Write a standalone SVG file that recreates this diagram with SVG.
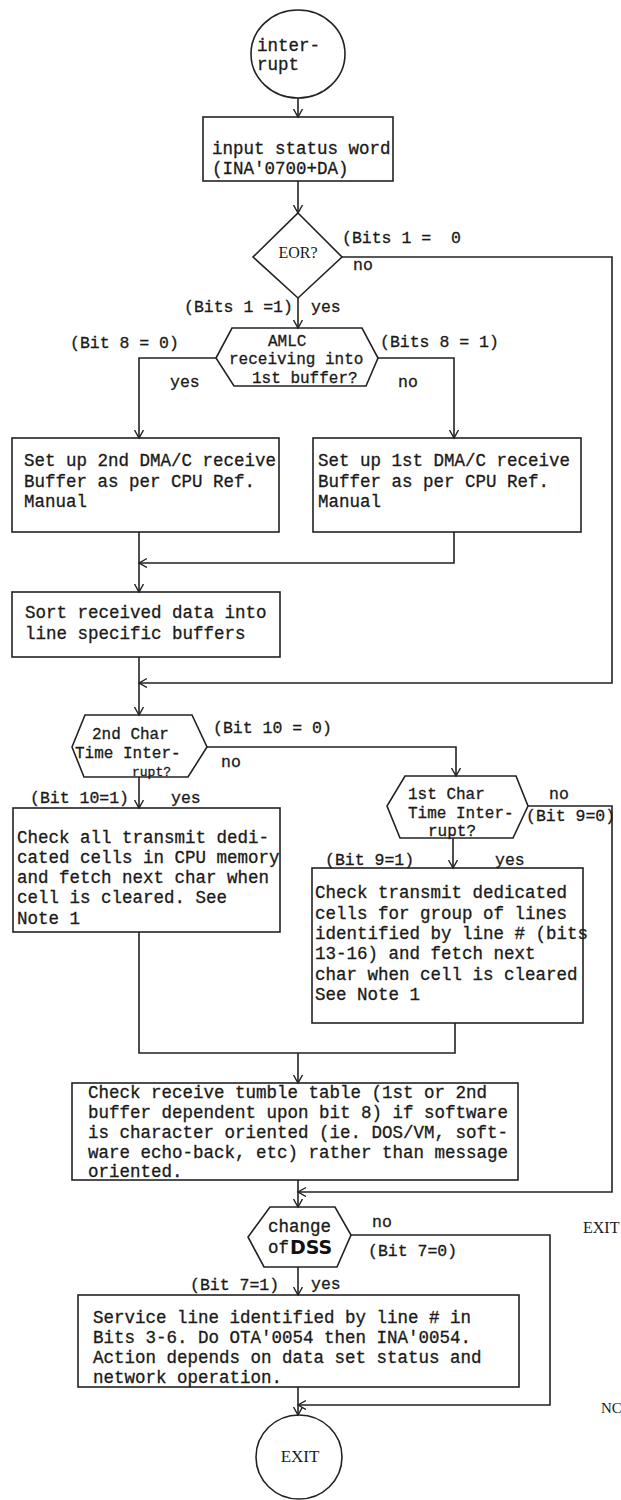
<svg xmlns="http://www.w3.org/2000/svg" width="621" height="1500" viewBox="0 0 621 1500">
<defs>
<marker id="ah" markerUnits="userSpaceOnUse" markerWidth="12" markerHeight="12" refX="8" refY="4.5" orient="auto"><path d="M0,0 L8,4.5 L0,9" fill="none" stroke="#222" stroke-width="1.4"/></marker>
</defs>
<style>
.n{fill:none;stroke:#222;stroke-width:1.6}
.c{fill:none;stroke:#222;stroke-width:1.6}
.t{font-family:"Liberation Mono","Courier New",monospace;font-size:17.5px;fill:#1a1a1a;stroke:#1a1a1a;stroke-width:0.3}
.h{font-family:"Liberation Mono","Courier New",monospace;font-size:16px;fill:#1a1a1a;stroke:#1a1a1a;stroke-width:0.3}
.l{font-family:"Liberation Mono","Courier New",monospace;font-size:16.5px;fill:#1a1a1a;stroke:#1a1a1a;stroke-width:0.3}
.r{font-family:"Liberation Serif","Times New Roman",serif;font-size:17px;fill:#1a1a1a}
.b{font-family:"DejaVu Sans",sans-serif;font-weight:bold;font-size:19px;fill:#111}
</style>
<rect width="621" height="1500" fill="#fff"/>

<g id="n-interrupt">
<ellipse class="n" cx="298" cy="54" rx="47" ry="44"/>
<text class="t" x="257" y="51">inter-</text>
<text class="t" x="257" y="70">rupt</text>
</g>

<g id="n-input">
<rect class="n" x="203" y="117" width="190" height="64"/>
<text class="t" x="212" y="154">input status word</text>
<text class="t" x="212" y="174">(INA'0700+DA)</text>
</g>

<g id="n-eor">
<polygon class="n" points="298,213 342,257 298,298 253,257"/>
<text class="r" x="298" y="258" text-anchor="middle" style="font-size:16px">EOR?</text>
</g>

<g id="n-amlc">
<polygon class="n" points="232,328 362,328 378,358 366,386 234,386 216,358"/>
<text class="h" x="268" y="346">AMLC</text>
<text class="h" x="229" y="364">receiving into</text>
<text class="h" x="252" y="383">1st buffer?</text>
</g>

<g id="n-setup2">
<rect class="n" x="12" y="438" width="267" height="94"/>
<text class="t" x="24" y="466">Set up 2nd DMA/C receive</text>
<text class="t" x="24" y="486.5">Buffer as per CPU Ref.</text>
<text class="t" x="24" y="507">Manual</text>
</g>

<g id="n-setup1">
<rect class="n" x="313" y="438" width="268" height="94"/>
<text class="t" x="318" y="466">Set up 1st DMA/C receive</text>
<text class="t" x="318" y="486.5">Buffer as per CPU Ref.</text>
<text class="t" x="318" y="507">Manual</text>
</g>

<g id="n-sort">
<rect class="n" x="12" y="592" width="268" height="65"/>
<text class="t" x="25" y="618">Sort received data into</text>
<text class="t" x="25" y="639">line specific buffers</text>
</g>

<g id="n-2ndchar">
<polygon class="n" points="85,715 192,715 207,747 188,777 84,777 72,747"/>
<text class="h" x="92" y="739">2nd Char</text>
<text class="h" x="75" y="758">Time Inter-</text>
<text class="h" x="132" y="776" style="font-size:13px">rupt?</text>
</g>

<g id="n-checkall">
<rect class="n" x="13" y="808" width="267" height="124"/>
<text class="t" x="17" y="843">Check all transmit dedi-</text>
<text class="t" x="17" y="863">cated cells in CPU memory</text>
<text class="t" x="17" y="883">and fetch next char when</text>
<text class="t" x="17" y="903">cell is cleared. See</text>
<text class="t" x="17" y="924">Note 1</text>
</g>

<g id="n-1stchar">
<polygon class="n" points="405,776 516,776 528,806 513,838 400,838 387,806"/>
<text class="h" x="408" y="799">1st Char</text>
<text class="h" x="408" y="818">Time Inter-</text>
<text class="h" x="428" y="836">rupt?</text>
</g>

<g id="n-checktx">
<rect class="n" x="312" y="868" width="271" height="155"/>
<text class="t" x="315" y="898">Check transmit dedicated</text>
<text class="t" x="315" y="918.5">cells for group of lines</text>
<text class="t" x="315" y="939">identified by line # (bits</text>
<text class="t" x="315" y="959">13-16) and fetch next</text>
<text class="t" x="315" y="980">char when cell is cleared</text>
<text class="t" x="315" y="1000">See Note 1</text>
</g>

<g id="n-checkrx">
<rect class="n" x="72" y="1083" width="446" height="97"/>
<text class="t" x="88" y="1098">Check receive tumble table (1st or 2nd</text>
<text class="t" x="88" y="1118">buffer dependent upon bit 8) if software</text>
<text class="t" x="88" y="1138">is character oriented (ie. DOS/VM, soft-</text>
<text class="t" x="88" y="1158">ware echo-back, etc) rather than message</text>
<text class="t" x="88" y="1177">oriented.</text>
</g>

<g id="n-dss">
<polygon class="n" points="270,1207 335,1207 351,1235 337,1267 264,1267 248,1237"/>
<text class="t" x="268" y="1232">change</text>
<text class="t" x="268" y="1253">of</text>
<text class="b" x="290" y="1254">DSS</text>
</g>

<g id="n-service">
<rect class="n" x="78" y="1295" width="441" height="92"/>
<text class="t" x="93" y="1323">Service line identified by line # in</text>
<text class="t" x="93" y="1343">Bits 3-6. Do OTA'0054 then INA'0054.</text>
<text class="t" x="93" y="1363">Action depends on data set status and</text>
<text class="t" x="93" y="1383">network operation.</text>
</g>

<g id="n-exit">
<ellipse class="n" cx="299" cy="1457" rx="43" ry="42"/>
<text class="r" x="300" y="1462" text-anchor="middle">EXIT</text>
</g>

<g id="connectors">
<path class="c" d="M298,98 V117" marker-end="url(#ah)"/>
<path class="c" d="M298,181 V213" marker-end="url(#ah)"/>
<path class="c" d="M298,298 V328" marker-end="url(#ah)"/>
<path class="c" d="M342,257 H612 V683 H139" marker-end="url(#ah)"/>
<path class="c" d="M216,358 H139 V438" marker-end="url(#ah)"/>
<path class="c" d="M378,358 H454 V438" marker-end="url(#ah)"/>
<path class="c" d="M139,532 V592" marker-end="url(#ah)"/>
<path class="c" d="M454,532 V563 H139" marker-end="url(#ah)"/>
<path class="c" d="M139,657 V715" marker-end="url(#ah)"/>
<path class="c" d="M207,747 H456 V776" marker-end="url(#ah)"/>
<path class="c" d="M139,777 V808" marker-end="url(#ah)"/>
<path class="c" d="M528,806 H612 V1192 H298" marker-end="url(#ah)"/>
<path class="c" d="M453,838 V868" marker-end="url(#ah)"/>
<path class="c" d="M139,932 V1053 H455 V1023"/>
<path class="c" d="M298,1053 V1083" marker-end="url(#ah)"/>
<path class="c" d="M298,1180 V1207" marker-end="url(#ah)"/>
<path class="c" d="M351,1235 H550 V1405 H298" marker-end="url(#ah)"/>
<path class="c" d="M298,1267 V1295" marker-end="url(#ah)"/>
<path class="c" d="M298,1387 V1415" marker-end="url(#ah)"/>
</g>

<g id="labels">
<text class="l" x="342" y="243" xml:space="preserve">(Bits 1 =  0</text>
<text class="l" x="353" y="270">no</text>
<text class="l" x="184" y="312">(Bits 1 =1)</text>
<text class="l" x="311" y="312">yes</text>
<text class="l" x="70" y="348">(Bit 8 = 0)</text>
<text class="l" x="170" y="387">yes</text>
<text class="l" x="380" y="347">(Bits 8 = 1)</text>
<text class="l" x="398" y="387">no</text>
<text class="l" x="213" y="733">(Bit 10 = 0)</text>
<text class="l" x="221" y="767">no</text>
<text class="l" x="30" y="803">(Bit 10=1)</text>
<text class="l" x="171" y="803">yes</text>
<text class="l" x="549" y="799">no</text>
<text class="l" x="526" y="821">(Bit 9=0)</text>
<text class="l" x="325" y="865">(Bit 9=1)</text>
<text class="l" x="495" y="865">yes</text>
<text class="l" x="372" y="1227">no</text>
<text class="l" x="368" y="1256">(Bit 7=0)</text>
<text class="l" x="190" y="1290">(Bit 7=1)</text>
<text class="l" x="311" y="1289">yes</text>
<text class="r" x="583" y="1233" style="font-size:16px">EXIT</text>
<text class="r" x="601" y="1413" style="font-size:15px">NC</text>
</g>
</svg>
